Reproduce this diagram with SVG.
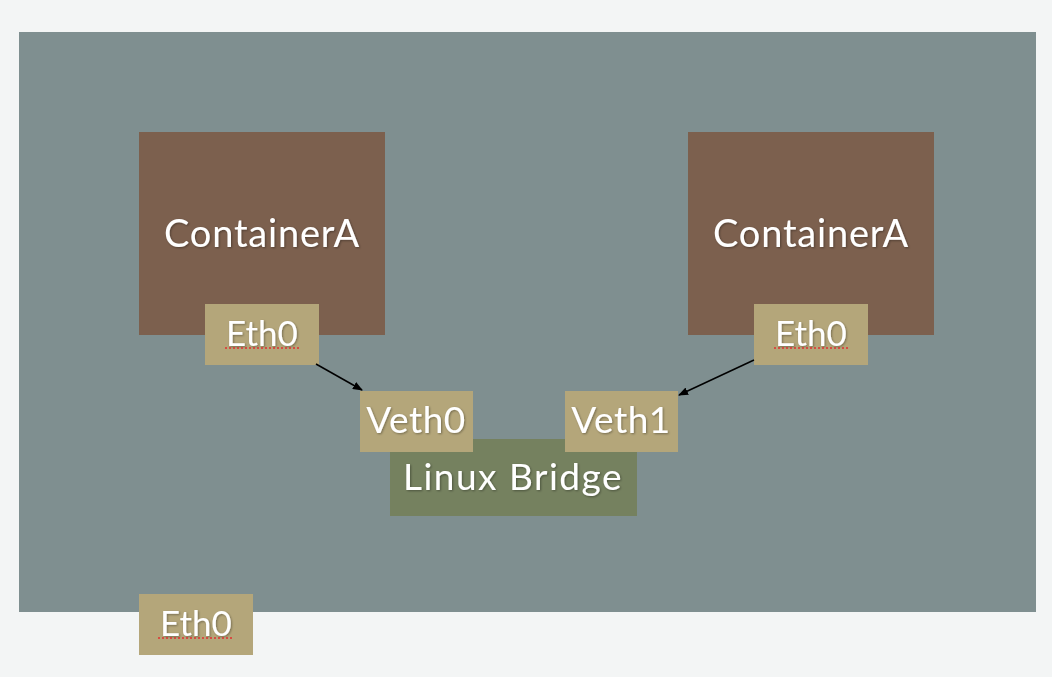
<svg xmlns="http://www.w3.org/2000/svg" width="1052" height="677" viewBox="0 0 1052 677">
<defs>
<style>
.t{font-family:Lato,"Open Sans","Noto Sans",sans-serif;fill:#ffffff;text-anchor:middle;}
.port{fill:#b4a67a;}
.cont{fill:#7c604e;}
.sq{stroke:#e03030;stroke-width:1.5;stroke-dasharray:2 2;}
.conn{stroke:#000;stroke-width:1.5;fill:none;marker-end:url(#ah);}
</style>
<marker id="ah" markerWidth="10" markerHeight="8" refX="9" refY="4" orient="auto" markerUnits="userSpaceOnUse">
<path d="M0,0 L10,4 L0,8 z" fill="#000"/>
</marker>
<filter id="sh" x="-10%" y="-10%" width="120%" height="130%">
<feDropShadow dx="1" dy="1" stdDeviation="1" flood-color="#000" flood-opacity="0.35"/>
</filter>
</defs>
<rect width="1052" height="677" fill="#f3f5f5"/>
<g id="host">
<rect x="19" y="32" width="1017" height="580" fill="#7f8f90"/>
</g>
<g id="containerA-left">
<rect class="cont" x="139" y="132" width="246" height="203"/>
<text class="t" x="262" y="247" font-size="38" letter-spacing="0.8" filter="url(#sh)">ContainerA</text>
</g>
<g id="containerA-right">
<rect class="cont" x="688" y="132" width="246" height="203"/>
<text class="t" x="811" y="247" font-size="38" letter-spacing="0.8" filter="url(#sh)">ContainerA</text>
</g>
<g id="bridge">
<rect x="390" y="439" width="247" height="77" fill="#75815f"/>
<text class="t" x="513" y="490" font-size="37" letter-spacing="1.5" filter="url(#sh)">Linux Bridge</text>
</g>
<g id="eth0-left">
<rect class="port" x="205" y="304" width="114" height="61"/>
<text class="t" x="262" y="346" font-size="35" filter="url(#sh)">Eth0</text>
<line class="sq" x1="225" y1="348" x2="300" y2="348"/>
</g>
<g id="eth0-right">
<rect class="port" x="754" y="304" width="114" height="61"/>
<text class="t" x="811" y="346" font-size="35" filter="url(#sh)">Eth0</text>
<line class="sq" x1="774" y1="348" x2="848" y2="348"/>
</g>
<g id="veth0">
<rect class="port" x="360" y="391" width="113" height="61"/>
<text class="t" x="416" y="433" font-size="37" letter-spacing="0.5" filter="url(#sh)">Veth0</text>
</g>
<g id="veth1">
<rect class="port" x="565" y="391" width="113" height="61"/>
<text class="t" x="621" y="433" font-size="37" letter-spacing="0.5" filter="url(#sh)">Veth1</text>
</g>
<g id="eth0-host">
<rect class="port" x="139" y="594" width="114" height="61"/>
<text class="t" x="196" y="636" font-size="35" filter="url(#sh)">Eth0</text>
<line class="sq" x1="158" y1="638" x2="233" y2="638"/>
</g>
<g id="connectors">
<line class="conn" x1="316" y1="364" x2="362" y2="390"/>
<line class="conn" x1="754" y1="360" x2="679" y2="395"/>
</g>
</svg>
